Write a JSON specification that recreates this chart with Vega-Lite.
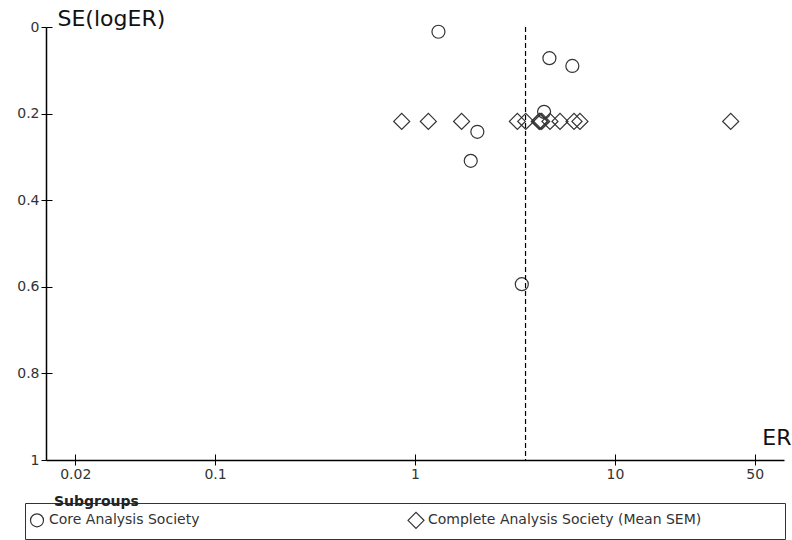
{
  "$schema": "https://vega.github.io/schema/vega-lite/v6.json",
  "width": 738,
  "height": 433,
  "autosize": {"type": "none"},
  "padding": {"left": 46, "top": 27, "right": 8, "bottom": 80},
  "background": "white",
  "title": {
    "text": "Subgroups",
    "orient": "bottom",
    "anchor": "start",
    "frame": "group",
    "offset": 0,
    "dx": 8,
    "dy": -34,
    "baseline": "alphabetic",
    "font": "DejaVu Sans",
    "fontSize": 14,
    "fontWeight": "bold",
    "color": "#222"
  },
  "config": {
    "font": "DejaVu Sans",
    "view": {"stroke": null},
    "axis": {"grid": false},
    "legend": {
      "strokeColor": "#333",
      "padding": 8,
      "symbolStrokeColor": "#333",
      "symbolStrokeWidth": 1.2,
      "symbolOffset": -5,
      "labelOffset": 3,
      "labelFont": "DejaVu Sans",
      "labelFontSize": 14,
      "labelColor": "#333",
      "labelLimit": 0
    }
  },
  "datasets": {
    "studies": [
      {"Subgroup": "Core Analysis Society", "ER": 1.31, "SE": 0.011},
      {"Subgroup": "Core Analysis Society", "ER": 4.70, "SE": 0.072},
      {"Subgroup": "Core Analysis Society", "ER": 6.12, "SE": 0.090},
      {"Subgroup": "Core Analysis Society", "ER": 4.42, "SE": 0.196},
      {"Subgroup": "Core Analysis Society", "ER": 2.05, "SE": 0.242},
      {"Subgroup": "Core Analysis Society", "ER": 1.90, "SE": 0.309},
      {"Subgroup": "Core Analysis Society", "ER": 3.42, "SE": 0.594},
      {"Subgroup": "Complete Analysis Society (Mean SEM)", "ER": 0.858, "SE": 0.218},
      {"Subgroup": "Complete Analysis Society (Mean SEM)", "ER": 1.166, "SE": 0.218},
      {"Subgroup": "Complete Analysis Society (Mean SEM)", "ER": 1.71, "SE": 0.218},
      {"Subgroup": "Complete Analysis Society (Mean SEM)", "ER": 3.25, "SE": 0.218},
      {"Subgroup": "Complete Analysis Society (Mean SEM)", "ER": 3.58, "SE": 0.218},
      {"Subgroup": "Complete Analysis Society (Mean SEM)", "ER": 4.18, "SE": 0.218},
      {"Subgroup": "Complete Analysis Society (Mean SEM)", "ER": 4.22, "SE": 0.218},
      {"Subgroup": "Complete Analysis Society (Mean SEM)", "ER": 4.30, "SE": 0.218},
      {"Subgroup": "Complete Analysis Society (Mean SEM)", "ER": 4.73, "SE": 0.218},
      {"Subgroup": "Complete Analysis Society (Mean SEM)", "ER": 5.31, "SE": 0.218},
      {"Subgroup": "Complete Analysis Society (Mean SEM)", "ER": 6.24, "SE": 0.218},
      {"Subgroup": "Complete Analysis Society (Mean SEM)", "ER": 6.68, "SE": 0.218},
      {"Subgroup": "Complete Analysis Society (Mean SEM)", "ER": 37.9, "SE": 0.218}
    ],
    "pooled": [
      {"ER": 3.57, "SE_top": 0, "SE_bottom": 1}
    ]
  },
  "layer": [
    {
      "data": {"name": "studies"},
      "mark": {"type": "point", "filled": false, "opacity": 1, "color": "#333", "strokeWidth": 1.2},
      "encoding": {
        "x": {
          "field": "ER",
          "type": "quantitative",
          "scale": {"type": "log", "domain": [0.0142857, 70], "nice": false},
          "axis": {
            "orient": "bottom",
            "values": [0.02, 0.1, 1, 10, 50],
            "format": "~g",
            "labelFlush": false,
            "tickSize": 5,
            "tickColor": "black",
            "tickWidth": 1,
            "domainColor": "black",
            "domainWidth": 1.5,
            "labelFont": "DejaVu Sans",
            "labelFontSize": 14,
            "labelColor": "#333",
            "labelPadding": 2,
            "title": "ER",
            "titleFont": "DejaVu Sans",
            "titleFontSize": 22,
            "titleFontWeight": "normal",
            "titleColor": "#111",
            "titleAlign": "right",
            "titleBaseline": "alphabetic",
            "titleAngle": 0,
            "titleX": 745,
            "titleY": -16
          }
        },
        "y": {
          "field": "SE",
          "type": "quantitative",
          "scale": {"domain": [0, 1], "reverse": true, "nice": false},
          "axis": {
            "orient": "left",
            "values": [0, 0.2, 0.4, 0.6, 0.8, 1],
            "format": "~g",
            "labelFlush": false,
            "tickSize": 5,
            "tickColor": "black",
            "tickWidth": 1,
            "domainColor": "black",
            "domainWidth": 1.5,
            "labelFont": "DejaVu Sans",
            "labelFontSize": 14,
            "labelColor": "#333",
            "labelPadding": 2,
            "title": "SE(logER)",
            "titleFont": "DejaVu Sans",
            "titleFontSize": 22,
            "titleFontWeight": "normal",
            "titleColor": "#111",
            "titleAngle": 0,
            "titleAlign": "left",
            "titleBaseline": "alphabetic",
            "titleX": 11,
            "titleY": -2
          }
        },
        "shape": {
          "field": "Subgroup",
          "type": "nominal",
          "scale": {
            "domain": ["Core Analysis Society", "Complete Analysis Society (Mean SEM)"],
            "range": ["circle", "diamond"]
          },
          "legend": {
            "title": null,
            "orient": "none",
            "legendX": -21,
            "legendY": 476,
            "direction": "horizontal",
            "columns": 2,
            "columnPadding": 205,
            "labelExpr": "datum.label + (datum.value == 'Complete Analysis Society (Mean SEM)' ? '\u00a0\u00a0\u00a0\u00a0\u00a0\u00a0\u00a0\u00a0\u00a0\u00a0\u00a0\u00a0\u00a0\u00a0\u00a0\u00a0\u00a0\u200b' : '')"
          }
        },
        "size": {
          "field": "Subgroup",
          "type": "nominal",
          "scale": {
            "domain": ["Core Analysis Society", "Complete Analysis Society (Mean SEM)"],
            "range": [169, 256]
          },
          "legend": {
            "title": null,
            "orient": "none",
            "legendX": -21,
            "legendY": 476,
            "direction": "horizontal",
            "columns": 2,
            "columnPadding": 205,
            "labelExpr": "datum.label + (datum.value == 'Complete Analysis Society (Mean SEM)' ? '\u00a0\u00a0\u00a0\u00a0\u00a0\u00a0\u00a0\u00a0\u00a0\u00a0\u00a0\u00a0\u00a0\u00a0\u00a0\u00a0\u00a0\u200b' : '')"
          }
        }
      }
    },
    {
      "data": {"name": "pooled"},
      "mark": {"type": "rule", "color": "black", "strokeWidth": 1.2, "strokeDash": [5, 3]},
      "encoding": {
        "x": {
          "field": "ER",
          "type": "quantitative",
          "scale": {"type": "log", "domain": [0.0142857, 70], "nice": false},
          "axis": {
            "orient": "bottom",
            "values": [0.02, 0.1, 1, 10, 50],
            "labels": false,
            "domain": false,
            "tickSize": -6,
            "tickColor": "black",
            "tickWidth": 1,
            "title": null
          }
        },
        "y": {
          "field": "SE_top",
          "type": "quantitative",
          "scale": {"domain": [0, 1], "reverse": true, "nice": false},
          "axis": {
            "orient": "left",
            "values": [0, 0.2, 0.4, 0.6, 0.8, 1],
            "labels": false,
            "domain": false,
            "tickSize": -6,
            "tickColor": "black",
            "tickWidth": 1,
            "title": null
          }
        },
        "y2": {"field": "SE_bottom"}
      }
    }
  ],
  "resolve": {"axis": {"x": "independent", "y": "independent"}}
}
